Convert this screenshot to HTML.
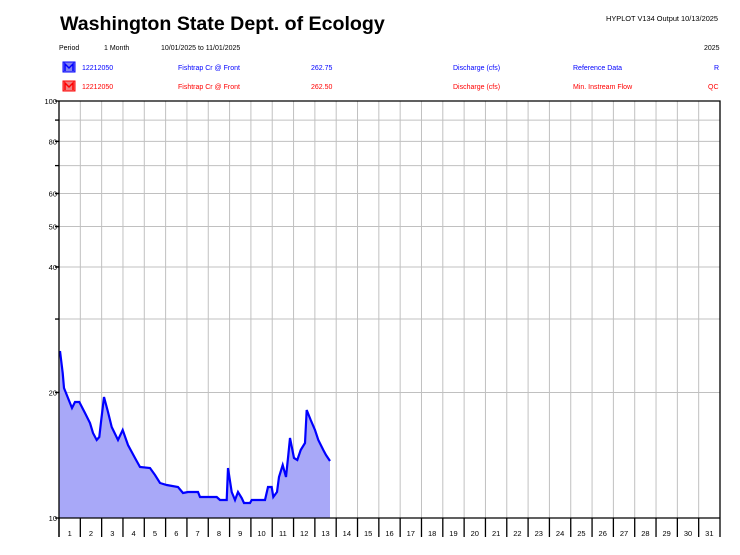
<!DOCTYPE html>
<html><head><meta charset="utf-8"><style>
body{margin:0;background:#fff;width:740px;height:555px;overflow:hidden}
svg{display:block;font-family:"Liberation Sans",Arial,sans-serif}
</style></head><body>
<svg id="s" width="740" height="555" viewBox="0 0 740 555" xmlns="http://www.w3.org/2000/svg">
<text x="60" y="30" font-size="19.6" font-weight="bold" fill="#000">Washington State Dept. of Ecology</text>
<text x="606" y="21" font-size="7.4" fill="#000">HYPLOT V134  Output 10/13/2025</text>
<g font-size="7" fill="#000">
<text x="59" y="50">Period</text><text x="104" y="50">1 Month</text><text x="161" y="50">10/01/2025  to  11/01/2025</text><text x="704" y="50">2025</text>
</g>
<g font-size="7" fill="#0000ff">
<rect x="63" y="62" width="12" height="10" fill="#8080f0" stroke="#0000ff"/><path d="M65,71 V64 L69,68 L73,64 V71" stroke="#0000ff" stroke-width="1.5" fill="none"/>
<text x="82" y="70">12212050</text><text x="178" y="70">Fishtrap Cr @ Front</text><text x="311" y="70">262.75</text><text x="453" y="70">Discharge (cfs)</text><text x="573" y="70">Reference Data</text><text x="714" y="70">R</text>
</g>
<g font-size="7" fill="#ff0000">
<rect x="63" y="81" width="12" height="10" fill="#f08080" stroke="#ff0000"/><path d="M65,90 V83 L69,87 L73,83 V90" stroke="#ff0000" stroke-width="1.5" fill="none"/>
<text x="82" y="89">12212050</text><text x="178" y="89">Fishtrap Cr @ Front</text><text x="311" y="89">262.50</text><text x="453" y="89">Discharge (cfs)</text><text x="573" y="89">Min. Instream Flow</text><text x="708" y="89">QC</text>
</g>
<g id="grid" stroke="#c0c0c0" stroke-width="1"></g>
<polygon fill="#a8a8f8" points="59,518 60,351 62.7,373 64,388 70,403 72,408 75,402 79.3,402 85,413 90,423 93,433 96.7,440 99.3,437 101,422 104,397 108,412 111.7,427 118,440 122.7,430 128,445 135,458 140,467 150,468 155,475 160,483 166.7,485 178,487 183,493 188,492 198,492 200,497 216.7,497 220,500 226.7,500 228,468 231.7,492 235,500 238,492 241.7,498 244,503 250,503 251.7,500 265,500 268,487 271.7,487 273.3,497 277,492 279,477 282.7,465 286,477 288.3,455 290,438 294,458 297.3,460 300.7,450 305,443 306.7,410 310.7,420 315,430 318.3,440 323.3,450 326,455 330,461 330,518"/>
<g id="grid2" stroke="#9a9ae8" stroke-width="1"></g>
<polyline fill="none" stroke="#0000ff" stroke-width="2.2" points="60,351 62.7,373 64,388 70,403 72,408 75,402 79.3,402 85,413 90,423 93,433 96.7,440 99.3,437 101,422 104,397 108,412 111.7,427 118,440 122.7,430 128,445 135,458 140,467 150,468 155,475 160,483 166.7,485 178,487 183,493 188,492 198,492 200,497 216.7,497 220,500 226.7,500 228,468 231.7,492 235,500 238,492 241.7,498 244,503 250,503 251.7,500 265,500 268,487 271.7,487 273.3,497 277,492 279,477 282.7,465 286,477 288.3,455 290,438 294,458 297.3,460 300.7,450 305,443 306.7,410 310.7,420 315,430 318.3,440 323.3,450 326,455 330,461"/>
<g id="axes" stroke="#000" stroke-width="1.3" fill="none">
<path d="M59,101 H720 V518 M59,101 V537 M59,518 H720"/>
</g>
<g id="lab" font-size="7.5" fill="#000"></g>
</svg>
<script>
var ns="http://www.w3.org/2000/svg",g=document.getElementById('grid'),ax=document.getElementById('axes'),lab=document.getElementById('lab');
function el(p,t,a){var e=document.createElementNS(ns,t);for(var k in a)e.setAttribute(k,a[k]);p.appendChild(e);return e;}
var d=(720-59)/31;
for(var k=1;k<31;k++){var x=59+k*d;el(g,'line',{x1:x,y1:101,x2:x,y2:518});}
[90,80,70,60,50,40,30,20].forEach(function(v){var y=518-417*Math.log10(v/10);el(g,'line',{x1:59,y1:y,x2:720,y2:y});el(ax,'line',{x1:55,y1:y,x2:59,y2:y});});
for(var k=0;k<=31;k++){var x=59+k*d;el(ax,'line',{x1:x,y1:518,x2:x,y2:537});}
for(var k=1;k<=31;k++){var t=el(lab,'text',{x:59+(k-0.5)*d,y:536,'text-anchor':'middle'});t.textContent=k;}
[[100,101],[80,141.4],[60,193.5],[50,226.5],[40,267],[20,392.5],[10,518]].forEach(function(a){var t=el(lab,'text',{x:57,y:a[1]+3,'text-anchor':'end'});t.textContent=a[0];el(ax,'line',{x1:55,y1:a[1],x2:59,y2:a[1]});});
</script>
</body></html>
